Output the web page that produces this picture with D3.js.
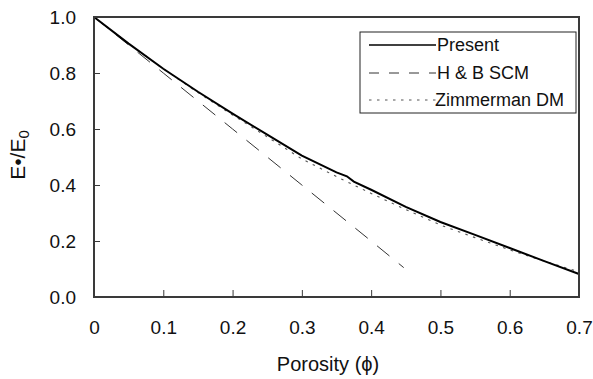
<!DOCTYPE html>
<html>
<head>
<meta charset="utf-8">
<script src="https://cdn.jsdelivr.net/npm/d3@7/dist/d3.min.js"></script>
<style>
  html, body { margin: 0; padding: 0; background: #fff; }
  svg { display: block; font-family: "Liberation Sans", Arial, Helvetica, sans-serif; }
</style>
</head>
<body>
<svg id="chart" width="593" height="379"></svg>
<script>
// Normalised Young's modulus versus porosity
const porosityPresent = [0, 0.05, 0.1, 0.15, 0.2, 0.25, 0.3, 0.35, 0.365, 0.375, 0.4, 0.45, 0.5, 0.55, 0.6, 0.65, 0.7];
const modulusPresent  = [1.0, 0.905, 0.815, 0.733, 0.655, 0.58, 0.505, 0.445, 0.431, 0.412, 0.383, 0.322, 0.268, 0.222, 0.175, 0.128, 0.082];

const porosityHB = [0, 0.1, 0.2, 0.3, 0.4, 0.447];
const modulusHB  = [1.0, 0.80, 0.60, 0.40, 0.20, 0.105];

const porosityZim = [0, 0.05, 0.1, 0.15, 0.2, 0.25, 0.3, 0.35, 0.4, 0.45, 0.5, 0.55, 0.6, 0.65, 0.7];
const modulusZim  = [1.0, 0.905, 0.815, 0.73, 0.65, 0.572, 0.493, 0.43, 0.37, 0.312, 0.257, 0.212, 0.168, 0.128, 0.09];

const xTicks = [0, 0.1, 0.2, 0.3, 0.4, 0.5, 0.6, 0.7];
const xTickLabels = ["0", "0.1", "0.2", "0.3", "0.4", "0.5", "0.6", "0.7"];
const yTicks = [0, 0.2, 0.4, 0.6, 0.8, 1.0];
const yTickLabels = ["0.0", "0.2", "0.4", "0.6", "0.8", "1.0"];

const legendNames = ["Present", "H & B SCM", "Zimmerman DM"];

const svg = d3.select("#chart");
const plotLeft = 94, plotRight = 579, plotTop = 17, plotBottom = 297;

const x = d3.scaleLinear().domain([0, 0.7]).range([plotLeft, plotRight]);
const y = d3.scaleLinear().domain([0, 1.0]).range([plotBottom, plotTop]);

const frameColor = "#3a3a3a";

// Axes with inward ticks
const xAxis = d3.axisBottom(x).tickValues(xTicks).tickSize(-7).tickPadding(24)
  .tickFormat((d, i) => xTickLabels[i]);
const yAxis = d3.axisLeft(y).tickValues(yTicks).tickSize(-6).tickPadding(18)
  .tickFormat((d, i) => yTickLabels[i]);

const gx = svg.append("g").attr("transform", `translate(0,${plotBottom})`).call(xAxis);
const gy = svg.append("g").attr("transform", `translate(${plotLeft},0)`).call(yAxis);

[gx, gy].forEach(g => {
  g.select(".domain").remove();
  g.selectAll(".tick line").attr("stroke", frameColor).attr("stroke-width", 1);
  g.selectAll(".tick text").attr("fill", "#111").style("font-size", "19px");
});
gx.selectAll(".tick text").attr("dy", "0.71em");

// Line series
const line = d3.line().x(d => x(d[0])).y(d => y(d[1]));
const zip = (a, b) => a.map((v, i) => [v, b[i]]);

svg.append("path").datum(zip(porosityZim, modulusZim))
  .attr("d", line).attr("fill", "none")
  .attr("stroke", "#555").attr("stroke-width", 1.1).attr("stroke-dasharray", "2.5,5.5");

svg.append("path").datum(zip(porosityHB, modulusHB))
  .attr("d", line).attr("fill", "none")
  .attr("stroke", "#333").attr("stroke-width", 1).attr("stroke-dasharray", "16,12");

svg.append("path").datum(zip(porosityPresent, modulusPresent))
  .attr("d", line).attr("fill", "none")
  .attr("stroke", "#000").attr("stroke-width", 2);

// Plot frame
svg.append("rect")
  .attr("x", plotLeft).attr("y", plotTop)
  .attr("width", plotRight - plotLeft).attr("height", plotBottom - plotTop)
  .attr("fill", "none").attr("stroke", frameColor).attr("stroke-width", 2);

// Legend
const lg = svg.append("g");
lg.append("rect").attr("x", 360).attr("y", 32).attr("width", 216).attr("height", 81)
  .attr("fill", "#fff").attr("stroke", "#222").attr("stroke-width", 1);
const legendStyles = [
  { stroke: "#000", width: 1.6, dash: null },
  { stroke: "#333", width: 1, dash: "10,10" },
  { stroke: "#555", width: 1.1, dash: "2.5,5.5" }
];
const legendRows = [45, 73, 100];
legendNames.forEach((name, i) => {
  const s = legendStyles[i];
  lg.append("line").attr("x1", 369).attr("x2", 436)
    .attr("y1", legendRows[i]).attr("y2", legendRows[i])
    .attr("stroke", s.stroke).attr("stroke-width", s.width)
    .attr("stroke-dasharray", s.dash);
  lg.append("text").attr("x", i === 2 ? 435 : 437).attr("y", legendRows[i])
    .attr("dy", "0.35em").style("font-size", "18px").attr("fill", "#111")
    .text(name);
});

// Axis titles
svg.append("text").attr("x", 328).attr("y", 371).attr("text-anchor", "middle")
  .style("font-size", "20px").attr("fill", "#111")
  .text("Porosity (\u03d5)");

const yt = svg.append("text")
  .attr("transform", "translate(25,155) rotate(-90)")
  .attr("text-anchor", "middle").style("font-size", "21px").attr("fill", "#111");
yt.append("tspan").text("E\u2022/E");
yt.append("tspan").attr("dy", "0.25em").style("font-size", "15px").text("0");
</script>
</body>
</html>
